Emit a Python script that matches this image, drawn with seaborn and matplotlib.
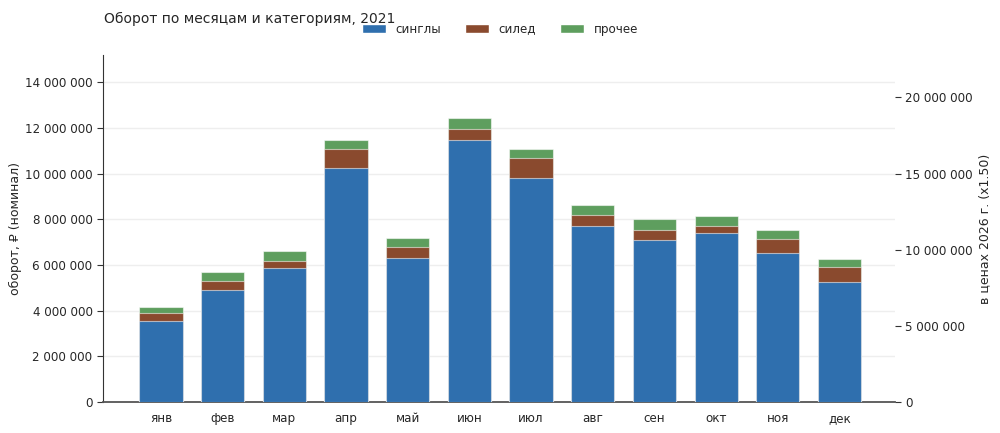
import matplotlib
matplotlib.use("Agg")
import matplotlib.pyplot as plt
import matplotlib.ticker as mticker
from matplotlib.patches import Patch
import seaborn as sns
import pandas as pd

# monthly turnover by category, 2021 (nominal, rubles)
months = ["янв", "фев", "мар", "апр", "май", "июн",
          "июл", "авг", "сен", "окт", "ноя", "дек"]
singles = [3560000, 4900000, 5850000, 10250000, 6310000, 11480000,
           9810000, 7710000, 7100000, 7380000, 6500000, 5250000]
siled = [350000, 380000, 300000, 820000, 490000, 480000,
         850000, 480000, 440000, 330000, 620000, 660000]
other = [260000, 410000, 460000, 410000, 360000, 490000,
         430000, 430000, 480000, 430000, 420000, 330000]
price_factor = 1.5

labels = ["синглы", "силед", "прочее"]
colors = ["#2f6fae", "#8a4a2e", "#5e9e5e"]

df = pd.DataFrame({"month": months, "singles": singles, "siled": siled, "other": other})
df["lvl1"] = df["singles"]
df["lvl2"] = df["singles"] + df["siled"]
df["lvl3"] = df["lvl2"] + df["other"]

sns.set_style("white")
plt.rcParams["font.family"] = ["DejaVu Sans"]

fig = plt.figure(figsize=(10, 4.33), dpi=100)
ax = fig.add_axes([0.103, 0.0716, 0.792, 0.801])

# draw stacked bars from the top layer down
for col, color in zip(["lvl3", "lvl2", "lvl1"], colors[::-1]):
    sns.barplot(data=df, x="month", y=col, color=color, width=0.7, saturation=1,
                edgecolor=(1, 1, 1, 0.55), linewidth=0.8, ax=ax, zorder=3)

ax.set_xlim(-0.94, 11.9)
ax.set_ylim(0, 15180000)
ax.yaxis.set_major_locator(mticker.MultipleLocator(2000000))
fmt = mticker.FuncFormatter(lambda v, p: f"{v:,.0f}".replace(",", " "))
ax.yaxis.set_major_formatter(fmt)
ax.grid(axis="y", color="#eeeeee", linewidth=1, zorder=0)
ax.set_axisbelow(True)

ax.set_xlabel("")
ax.set_ylabel("оборот, ₽ (номинал)", fontsize=9, labelpad=2)
ax.tick_params(axis="y", left=True, length=4, width=0.8, labelsize=8.6, color="#333333")
ax.tick_params(axis="x", bottom=False, labelsize=8.6)
for s in ["top", "right"]:
    ax.spines[s].set_visible(False)
ax.spines["left"].set_color("#333333")
ax.spines["bottom"].set_color("#555555")
ax.spines["bottom"].set_linewidth(1.3)

sec = ax.secondary_yaxis("right", functions=(lambda v: v * price_factor,
                                              lambda v: v / price_factor))
sec.yaxis.set_major_locator(mticker.MultipleLocator(5000000))
sec.yaxis.set_major_formatter(fmt)
sec.spines["right"].set_visible(False)
sec.tick_params(length=4, width=0.8, labelsize=8.6, color="#333333")
sec.set_ylabel(f"в ценах 2026 г. (x{price_factor:.2f})", fontsize=9)

fig.text(0.104, 0.956, "Оборот по месяцам и категориям, 2021", fontsize=10,
         ha="left", va="center")

handles = [Patch(facecolor=c, label=l) for c, l in zip(colors, labels)]
fig.legend(handles=handles, loc="center", bbox_to_anchor=(0.5, 0.933), ncol=3,
           frameon=False, fontsize=8.6, columnspacing=2.0)

fig.savefig("out.png", dpi=100)
